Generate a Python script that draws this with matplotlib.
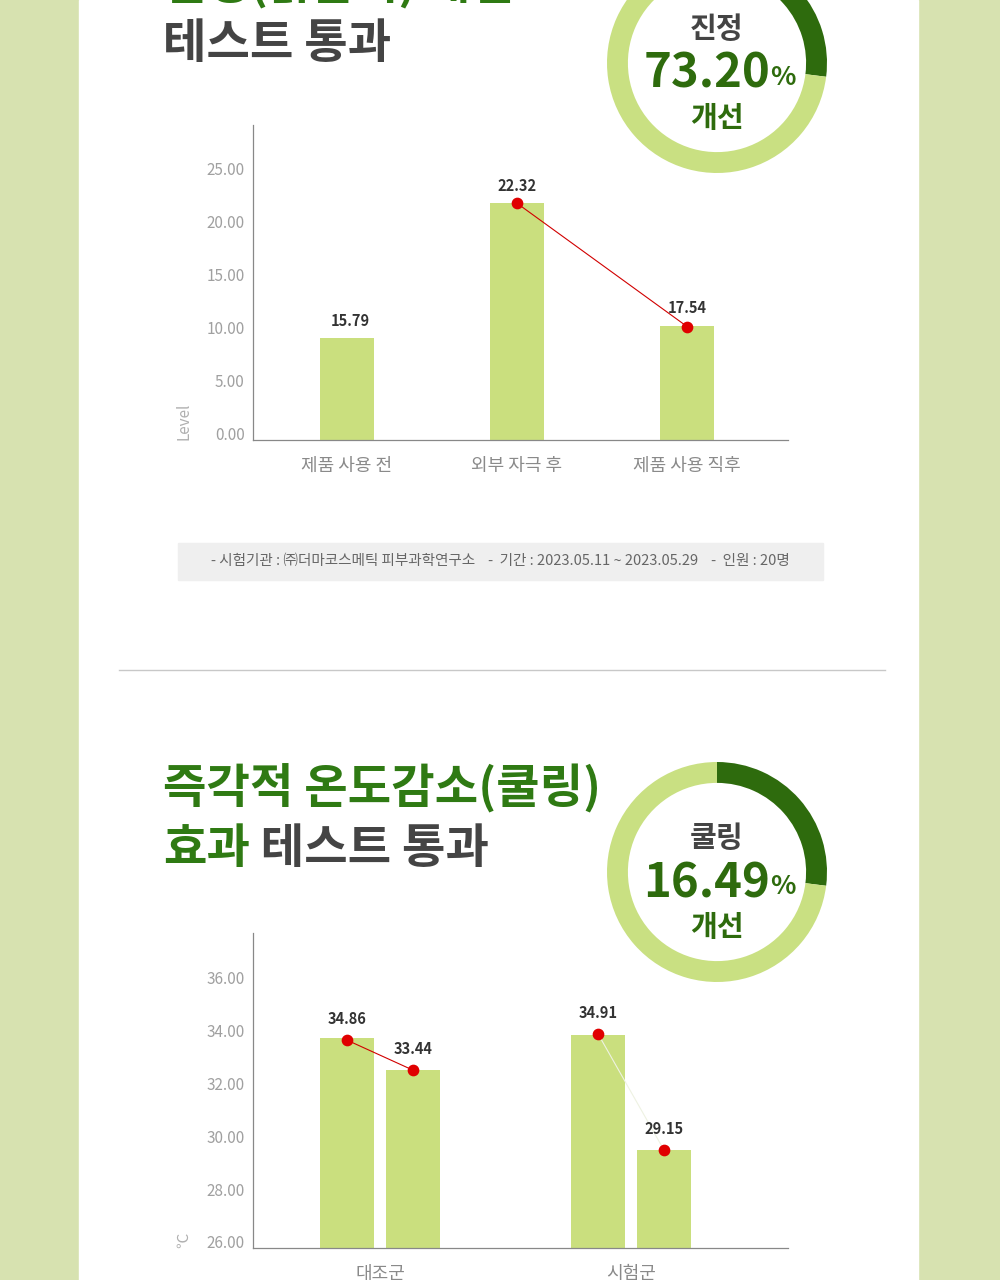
import matplotlib
matplotlib.use("Agg")
import matplotlib.pyplot as plt
from matplotlib.patches import Rectangle
from matplotlib.transforms import ScaledTranslation

plt.rcParams['font.family'] = ['Noto Sans CJK KR', 'DejaVu Sans']

# ---------------- data ----------------
cat1 = ["제품 사용 전", "외부 자극 후", "제품 사용 직후"]
bar1_heights = [9.6, 22.32, 10.75]
bar1_labels = ["15.79", "22.32", "17.54"]   # printed values
line1_idx = [1, 2]
line1_vals = [22.32, 10.7]
yticks1 = [0, 5, 10, 15, 20, 25]

cat2 = ["대조군", "시험군"]
bar2_before = [33.92, 34.04]
bar2_after = [32.72, 29.7]
bar2_labels_before = ["34.86", "34.91"]
bar2_labels_after = ["33.44", "29.15"]
marker2_before = [33.85, 34.08]
marker2_after = [32.72, 29.7]
yticks2 = [26, 28, 30, 32, 34, 36]

donut_fraction = [0.27, 0.73]

W, H = 1000, 1280
BAR = "#cadf7e"
DARK_G = "#2e6b0d"
LIGHT_RING = "#c9e082"
TITLE_G = "#2f7a13"
GRAYTXT = "#444444"

fig = plt.figure(figsize=(10, 12.8), dpi=100)
fig.patch.set_facecolor("#d7e2b0")


def fx(x):
    return x / W


def fy(y):
    return 1 - y / H


def ax_rect(l, t, r, b):
    return [fx(l), fy(b), (r - l) / W, (b - t) / H]


# white panel
bg = fig.add_axes([0, 0, 1, 1])
bg.set_xlim(0, W)
bg.set_ylim(H, 0)
bg.axis("off")
bg.add_patch(Rectangle((79, 0), 839, H, color="white", zorder=0))
# footer box
bg.add_patch(Rectangle((178, 543), 645, 37, color="#efefef", zorder=1))
bg.text(500, 561, "- 시험기관 : ㈜더마코스메틱 피부과학연구소    -  기간 : 2023.05.11 ~ 2023.05.29    -  인원 : 20명",
        ha="center", va="center", fontsize=10.5, color="#666666", zorder=2)
# separator
bg.plot([119, 885], [670, 670], color="#c8c8c8", lw=1, zorder=1)

# titles
TFS = 34
bg.text(163, -15, "진정(붉은기) 개선", ha="left", va="center", fontsize=TFS,
        fontweight="heavy", color=TITLE_G)
bg.text(163, 44, "테스트 통과", ha="left", va="center", fontsize=TFS,
        fontweight="heavy", color=GRAYTXT)
bg.text(163, 789, "즉각적 온도감소(쿨링)", ha="left", va="center", fontsize=TFS,
        fontweight="heavy", color=TITLE_G)
t1 = bg.text(163, 849, "효과", ha="left", va="center", fontsize=TFS,
             fontweight="heavy", color=TITLE_G)
bg.annotate(" 테스트 통과", xycoords=t1, xy=(1, 0.5), ha="left", va="center",
            fontsize=TFS, fontweight="heavy", color=GRAYTXT)


# donuts
def donut(cx, cy, top, pct, bottom):
    r = 110
    ax = fig.add_axes(ax_rect(cx - r, cy - r, cx + r, cy + r))
    ax.pie(donut_fraction, colors=[DARK_G, LIGHT_RING], startangle=90,
           counterclock=False, radius=1.0,
           wedgeprops=dict(width=0.19, edgecolor="none"))
    ax.set_xlim(-1, 1)
    ax.set_ylim(-1, 1)
    ax.set_aspect("equal")
    ax.axis("off")
    bg.text(cx, cy - 34, top, ha="center", va="center", fontsize=21,
            fontweight="heavy", color=GRAYTXT, zorder=5)
    tn = bg.text(cx - 10, cy + 11, pct, ha="center", va="center", fontsize=34,
                 fontweight="heavy", color=DARK_G, zorder=5)
    bg.annotate("%", xycoords=tn, xy=(1, 0.42), ha="left", va="center",
                fontsize=19, fontweight="bold", color=DARK_G, zorder=5)
    bg.text(cx, cy + 55, bottom, ha="center", va="center", fontsize=21,
            fontweight="heavy", color=DARK_G, zorder=5)


donut(717, 63, "진정", "73.20", "개선")
donut(717, 872, "쿨링", "16.49", "개선")


def style_axes(ax, yticks, ylabel):
    for s in ["top", "right"]:
        ax.spines[s].set_visible(False)
    ax.spines["left"].set_color("#888888")
    ax.spines["bottom"].set_color("#888888")
    ax.spines["left"].set_linewidth(0.9)
    ax.spines["bottom"].set_linewidth(0.9)
    ax.set_yticks(yticks)
    ax.set_yticklabels([f"{v:.2f}" for v in yticks], color="#a0a0a0", fontsize=11)
    ax.tick_params(axis="y", length=0, pad=6)
    ax.tick_params(axis="x", length=0, pad=12, labelsize=13, labelcolor="#8a8a8a")
    up = ScaledTranslation(0, 4 / 100, fig.dpi_scale_trans)
    for lab in ax.get_yticklabels():
        lab.set_va("center")
        lab.set_transform(lab.get_transform() + up)
    ax.set_ylabel(ylabel, color="#b0b0b0", fontsize=11, labelpad=6)
    ax.yaxis.set_label_coords(-0.114, 0.0, transform=ax.transAxes)
    ax.yaxis.label.set_va("bottom")
    ax.yaxis.label.set_ha("left")
    ax.patch.set_alpha(0)


# ---------------- chart 1 ----------------
ax1 = fig.add_axes(ax_rect(253, 125, 788, 440))
x1 = list(range(len(cat1)))
ax1.bar(x1, bar1_heights, width=0.32, color=BAR, zorder=2)
ax1.set_xlim(-0.553, 2.594)
ax1.set_ylim(0, 29.7)
ax1.set_xticks(x1)
ax1.set_xticklabels(cat1)
style_axes(ax1, yticks1, "Level")
ax1.plot(line1_idx, line1_vals, color="#d10000", lw=0.8, zorder=3)
ax1.scatter(line1_idx, line1_vals, s=55, color="#e00000", zorder=4)
for xi, h, lab in zip(x1, bar1_heights, bar1_labels):
    ax1.text(xi + (0.02 if xi == 0 else 0), h + 0.9, lab, ha="center", va="bottom",
             fontsize=10.5, fontweight="bold", color="#333333", zorder=5)

# ---------------- chart 2 ----------------
ax2 = fig.add_axes(ax_rect(253, 933, 788, 1248))
x2 = list(range(len(cat2)))
off = 0.131
bw = 0.215
xb = [x - off for x in x2]
xa = [x + off for x in x2]
ax2.bar(xb, [v - 26 for v in bar2_before], bottom=26, width=bw, color=BAR, zorder=2)
ax2.bar(xa, [v - 26 for v in bar2_after], bottom=26, width=bw, color=BAR, zorder=2)
ax2.set_xlim(-0.506, 1.625)
ax2.set_ylim(26, 37.9)
ax2.set_xticks(x2)
ax2.set_xticklabels(cat2)
style_axes(ax2, yticks2, "℃")
line_cols = ["#d10000", "#eef2e2"]
for i in x2:
    ax2.plot([xb[i], xa[i]], [marker2_before[i], marker2_after[i]],
             color=line_cols[i], lw=0.8, zorder=3)
ax2.scatter(xb, marker2_before, s=55, color="#e00000", zorder=4)
ax2.scatter(xa, marker2_after, s=55, color="#e00000", zorder=4)
for i in x2:
    ax2.text(xb[i], marker2_before[i] + 0.5, bar2_labels_before[i], ha="center",
             va="bottom", fontsize=10.5, fontweight="bold", color="#333333", zorder=5)
    ax2.text(xa[i], marker2_after[i] + 0.5, bar2_labels_after[i], ha="center",
             va="bottom", fontsize=10.5, fontweight="bold", color="#333333", zorder=5)

fig.savefig("out.png", dpi=100, facecolor=fig.get_facecolor())
